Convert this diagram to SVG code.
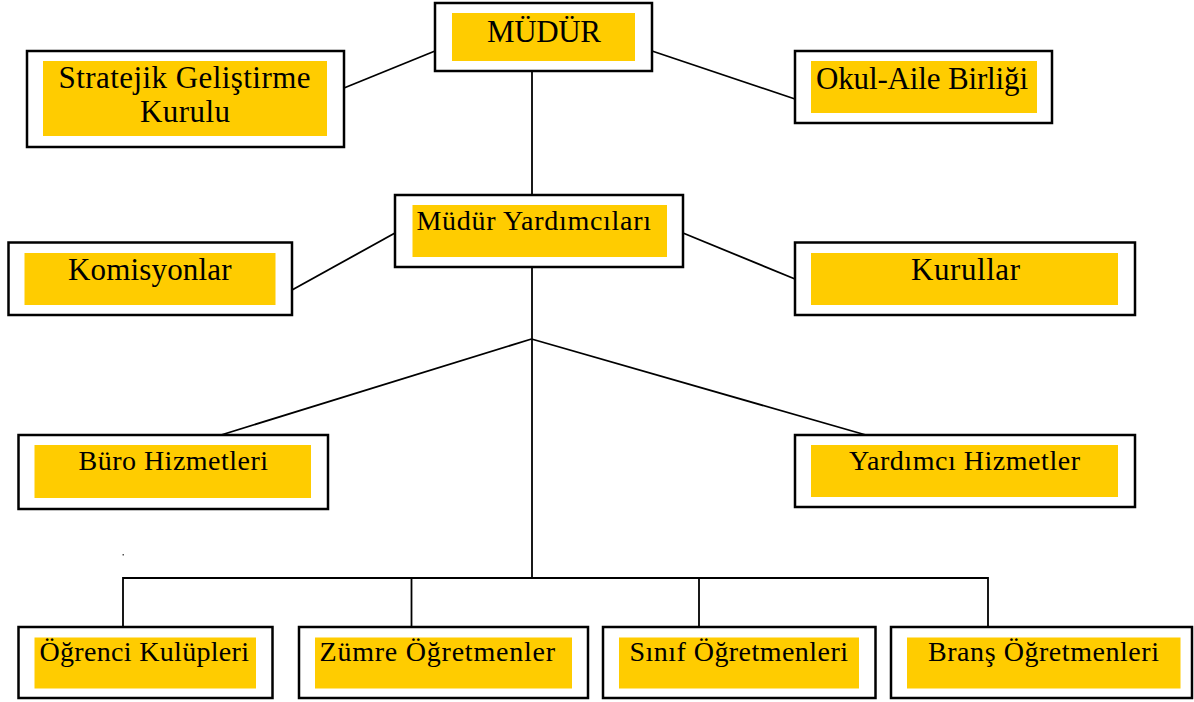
<svg xmlns="http://www.w3.org/2000/svg" width="1194" height="702" viewBox="0 0 1194 702">
<style>
.box{fill:#fff;stroke:#000;stroke-width:2.5}
.fill{fill:#FFCC00}
.t{font-family:"Liberation Serif","Times New Roman",serif;font-size:28px;fill:#000}
.big{font-size:31px}
.c{fill:none;stroke:#000;stroke-width:1.8}
</style>
<rect width="1194" height="702" fill="#fff"/>
<g id="connectors">
<line class="c" x1="435" y1="51" x2="344" y2="88"/>
<line class="c" x1="652" y1="51" x2="795" y2="99"/>
<line class="c" x1="532" y1="71" x2="532" y2="195"/>
<line class="c" x1="395" y1="233" x2="292" y2="290"/>
<line class="c" x1="683" y1="233" x2="795" y2="279"/>
<line class="c" x1="532" y1="267" x2="532" y2="578"/>
<line class="c" x1="531.5" y1="339" x2="221" y2="435"/>
<line class="c" x1="531.5" y1="339" x2="866" y2="435"/>
<polyline class="c" points="123,627 123,578 988,578 988,627"/>
<line class="c" x1="411.5" y1="578" x2="411.5" y2="627"/>
<line class="c" x1="699" y1="578" x2="699" y2="627"/>
<rect x="122.5" y="554" width="1.5" height="1.5" fill="#555"/>
</g>
<g id="mudur">
<rect class="box" x="435" y="3" width="217" height="68"/>
<rect class="fill" x="452" y="13" width="183" height="48"/>
<text class="t big" x="544" y="42" text-anchor="middle" textLength="114">MÜDÜR</text>
</g>
<g id="stratejik">
<rect class="box" x="27" y="51" width="317" height="96"/>
<rect class="fill" x="43" y="61" width="284" height="75"/>
<text class="t big" x="58.5" y="88" textLength="252">Stratejik Geliştirme</text>
<text class="t big" x="140" y="122" textLength="90">Kurulu</text>
</g>
<g id="okul-aile">
<rect class="box" x="795" y="51" width="257" height="72"/>
<rect class="fill" x="811" y="61" width="226" height="52"/>
<text class="t big" x="816" y="89" textLength="212">Okul-Aile Birliği</text>
</g>
<g id="mudur-yardimcilari">
<rect class="box" x="395" y="195" width="288" height="72"/>
<rect class="fill" x="412.5" y="205" width="254.5" height="52"/>
<text class="t" x="416.5" y="230" textLength="234.5">Müdür Yardımcıları</text>
</g>
<g id="komisyonlar">
<rect class="box" x="8.5" y="242.5" width="283.5" height="72.5"/>
<rect class="fill" x="24.5" y="253" width="251" height="52"/>
<text class="t big" x="68" y="280" textLength="163.5">Komisyonlar</text>
</g>
<g id="kurullar">
<rect class="box" x="795" y="242.5" width="340" height="72.5"/>
<rect class="fill" x="811" y="253" width="307" height="52"/>
<text class="t big" x="911" y="280" textLength="109">Kurullar</text>
</g>
<g id="buro-hizmetleri">
<rect class="box" x="18.5" y="435" width="309.5" height="74"/>
<rect class="fill" x="34.5" y="445" width="276.5" height="53"/>
<text class="t" x="78.5" y="470" textLength="189.5">Büro Hizmetleri</text>
</g>
<g id="yardimci-hizmetler">
<rect class="box" x="795" y="435" width="340" height="72"/>
<rect class="fill" x="811" y="445" width="307" height="52"/>
<text class="t" x="849" y="470" textLength="231">Yardımcı Hizmetler</text>
</g>
<g id="ogrenci-kulupleri">
<rect class="box" x="18.5" y="627" width="254" height="71"/>
<rect class="fill" x="34.5" y="637.5" width="221.5" height="51"/>
<text class="t" x="39.5" y="661" textLength="209.5">Öğrenci Kulüpleri</text>
</g>
<g id="zumre-ogretmenler">
<rect class="box" x="299" y="627" width="289" height="71"/>
<rect class="fill" x="315" y="637.5" width="257" height="51"/>
<text class="t" x="319.5" y="661" textLength="235.5">Zümre Öğretmenler</text>
</g>
<g id="sinif-ogretmenleri">
<rect class="box" x="603" y="627" width="272.5" height="71"/>
<rect class="fill" x="619" y="637.5" width="240" height="51"/>
<text class="t" x="629.5" y="661" textLength="218.5">Sınıf Öğretmenleri</text>
</g>
<g id="brans-ogretmenleri">
<rect class="box" x="891" y="627" width="301" height="71"/>
<rect class="fill" x="907" y="637.5" width="273.5" height="51"/>
<text class="t" x="928" y="661" textLength="231">Branş Öğretmenleri</text>
</g>
</svg>
